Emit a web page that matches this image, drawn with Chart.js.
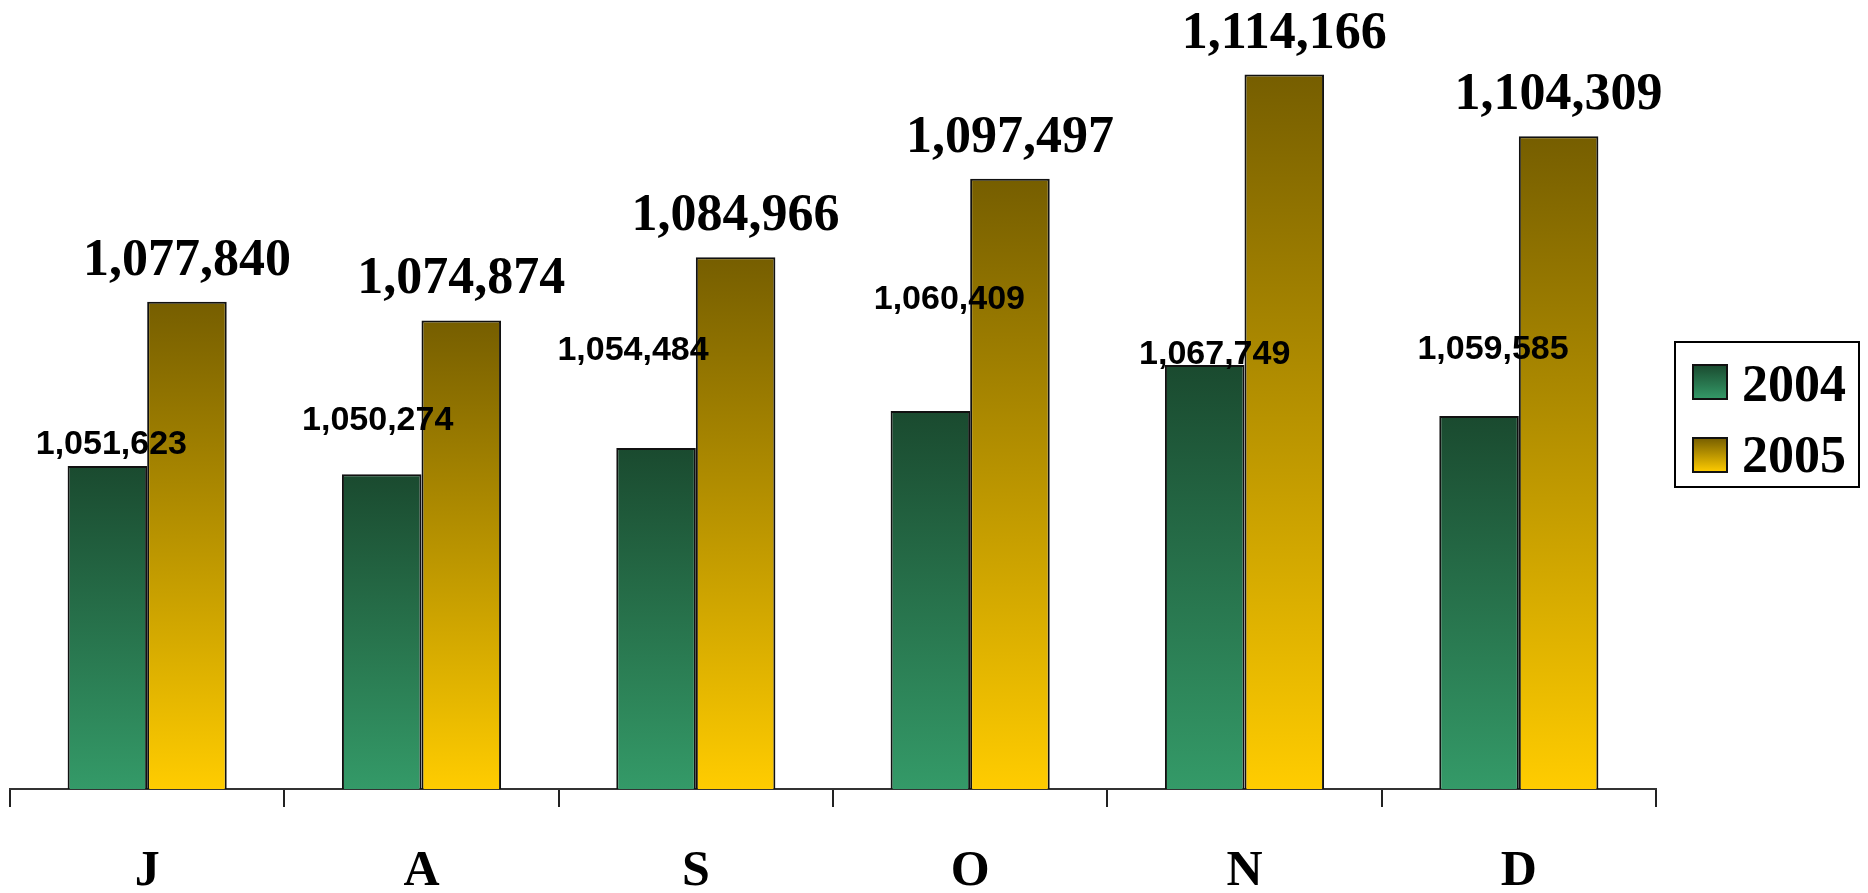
<!DOCTYPE html>
<html>
<head>
<meta charset="utf-8">
<script src="https://cdn.jsdelivr.net/npm/chart.js@4"></script>
<style>
html,body{margin:0;padding:0;background:#fff;overflow:hidden;}
#wrap{width:1868px;height:893px;position:relative;}
</style>
</head>
<body>
<div id="wrap"><canvas id="c" width="1868" height="893"></canvas></div>
<script>
const categories = ['J', 'A', 'S', 'O', 'N', 'D'];
const seriesNames = ['2004', '2005'];
const values2004 = [1051623, 1050274, 1054484, 1060409, 1067749, 1059585];
const values2005 = [1077840, 1074874, 1084966, 1097497, 1114166, 1104309];
const yMin = 1000000;
const yMax = 1120000;

// label placement nudges for the 2004 value labels (pixels)
const label2004DX = [4, -4, -23, 19, 10, 14];
const label2004DY = [12, 44, 88, 102, 1, 57];

const green = ['#1a4a2f', '#349a68'];
const gold = ['#765e00', '#ffcc00'];
const serif = '"Liberation Serif", "Times New Roman", Times, serif';
const sans = '"Liberation Sans", Arial, Helvetica, sans-serif';

function barFill(cols) {
  return function (context) {
    const chart = context.chart;
    const area = chart.chartArea;
    if (!area || context.type !== 'data') return cols[1];
    const y = chart.scales.y;
    const top = y.getPixelForValue(context.raw);
    const bot = y.getPixelForValue(yMin);
    const g = chart.ctx.createLinearGradient(0, top, 0, bot);
    g.addColorStop(0, cols[0]);
    g.addColorStop(1, cols[1]);
    return g;
  };
}

const valueLabels = {
  id: 'valueLabels',
  afterDatasetsDraw(chart) {
    const ctx = chart.ctx;
    ctx.save();
    ctx.fillStyle = '#000';
    ctx.textAlign = 'center';
    ctx.textBaseline = 'alphabetic';
    const m0 = chart.getDatasetMeta(0);
    const m1 = chart.getDatasetMeta(1);
    ctx.font = 'bold 34px ' + sans;
    m0.data.forEach((bar, i) => {
      ctx.fillText(values2004[i].toLocaleString('en-US'), bar.x + label2004DX[i], bar.y - label2004DY[i]);
    });
    ctx.font = 'bold 52px ' + serif;
    m1.data.forEach((bar, i) => {
      ctx.fillText(values2005[i].toLocaleString('en-US'), bar.x, bar.y - 27);
    });
    ctx.restore();
  }
};

const boxLegend = {
  id: 'boxLegend',
  afterDraw(chart) {
    const ctx = chart.ctx;
    ctx.save();
    ctx.strokeStyle = '#000';
    ctx.lineWidth = 2;
    ctx.strokeRect(1675, 342, 184, 145);
    const entries = [
      { label: chart.data.datasets[0].label, cols: green, y: 365, base: 401 },
      { label: chart.data.datasets[1].label, cols: gold, y: 438, base: 472 }
    ];
    entries.forEach(e => {
      const g = ctx.createLinearGradient(0, e.y, 0, e.y + 34);
      g.addColorStop(0, e.cols[0]);
      g.addColorStop(1, e.cols[1]);
      ctx.fillStyle = g;
      ctx.fillRect(1693, e.y, 34, 34);
      ctx.lineWidth = 2;
      ctx.strokeStyle = '#111';
      ctx.strokeRect(1693, e.y, 34, 34);
      ctx.fillStyle = '#000';
      ctx.font = 'bold 52px ' + serif;
      ctx.textAlign = 'left';
      ctx.textBaseline = 'alphabetic';
      ctx.fillText(e.label, 1742, e.base);
    });
    ctx.restore();
  }
};

new Chart(document.getElementById('c'), {
  type: 'bar',
  data: {
    labels: categories,
    datasets: [
      {
        label: seriesNames[0],
        data: values2004,
        backgroundColor: barFill(green),
        borderColor: '#111',
        borderWidth: 2,
        borderSkipped: 'start',
        categoryPercentage: 0.58,
        barPercentage: 1.0
      },
      {
        label: seriesNames[1],
        data: values2005,
        backgroundColor: barFill(gold),
        borderColor: '#111',
        borderWidth: 2,
        borderSkipped: 'start',
        categoryPercentage: 0.58,
        barPercentage: 1.0
      }
    ]
  },
  options: {
    responsive: false,
    animation: false,
    devicePixelRatio: 1,
    layout: { padding: { left: 10, right: 212, top: 38, bottom: 0 } },
    plugins: {
      legend: { display: false },
      tooltip: { enabled: false }
    },
    scales: {
      x: {
        offset: true,
        grid: {
          offset: true,
          drawOnChartArea: false,
          drawTicks: true,
          tickLength: 18,
          color: '#222',
          lineWidth: 2
        },
        border: { display: true, color: '#333', width: 2 },
        ticks: {
          color: '#000',
          padding: 35,
          font: { family: serif, size: 50, weight: 'bold' }
        },
        afterFit(scale) { scale.height = 104; }
      },
      y: {
        display: false,
        min: yMin,
        max: yMax
      }
    }
  },
  plugins: [valueLabels, boxLegend]
});
</script>
</body>
</html>
